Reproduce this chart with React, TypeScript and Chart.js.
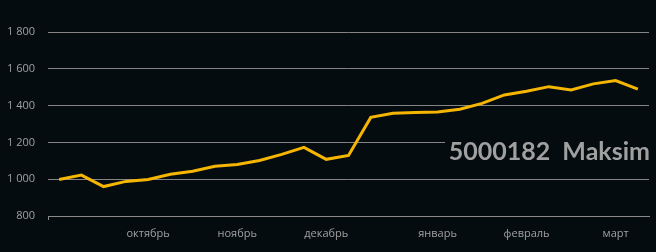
import React, { useEffect, useRef } from "react";
import { Chart, registerables } from "chart.js";

Chart.register(...registerables);

const categories: string[] = [
  "", "", "", "", "октябрь", "", "", "", "ноябрь", "", "", "", "декабрь", "", "", "", "",
  "январь", "", "", "", "февраль", "", "", "", "март", "",
];
const values: number[] = [
  998, 1022, 960, 988, 998, 1027, 1043, 1070, 1080, 1102, 1135, 1173, 1108, 1129,
  1336, 1358, 1363, 1365, 1380, 1412, 1458, 1478, 1503, 1485, 1518, 1536, 1489,
];
const yTicks: number[] = [800, 1000, 1200, 1400, 1600, 1800];
const title = "5000182  Maksim";

const BG = "#040c10";

const overlay = {
  id: "overlay",
  afterDraw(chart: any) {
    const { ctx, chartArea, scales } = chart;
    ctx.save();
    ctx.strokeStyle = "#8a8a8a";
    ctx.lineWidth = 1;
    ctx.beginPath();
    ctx.moveTo(chartArea.left + 0.5, chartArea.bottom);
    ctx.lineTo(chartArea.left + 0.5, chartArea.bottom + 4);
    ctx.stroke();
    const y = scales.y.getPixelForValue(1200);
    ctx.fillStyle = BG;
    ctx.fillRect(chartArea.right - 204, y - 12, 215, 28);
    ctx.font = "bold 25px Lato";
    ctx.fillStyle = "#a0a0a0";
    ctx.textAlign = "right";
    ctx.textBaseline = "alphabetic";
    ctx.fillText(title, chartArea.right + 1, y + 18);
    ctx.restore();
  },
};

export default function App() {
  const ref = useRef<HTMLCanvasElement>(null);
  useEffect(() => {
    document.body.style.margin = "0";
    const chart = new Chart(ref.current!, {
      type: "line",
      data: {
        labels: categories,
        datasets: [
          {
            data: values,
            borderColor: "#f5b500",
            borderWidth: 3,
            pointRadius: 0,
            tension: 0,
            fill: false,
          },
        ],
      },
      options: {
        animation: false,
        responsive: false,
        maintainAspectRatio: false,
        layout: { padding: { top: 32, right: 7, left: 0, bottom: 0 } },
        plugins: { legend: { display: false }, tooltip: { enabled: false } },
        scales: {
          x: {
            offset: true,
            grid: { display: false, drawTicks: false },
            border: { display: true, color: "#8a8a8a", width: 1 },
            ticks: {
              autoSkip: false,
              maxRotation: 0,
              padding: 11,
              color: "#a0a0a0",
              font: { family: "Open Sans", size: 11 },
            },
            afterFit(scale: any) {
              scale.height = 36;
            },
          },
          y: {
            min: 800,
            max: 1800,
            afterBuildTicks(scale: any) {
              scale.ticks = yTicks.map((v) => ({ value: v }));
            },
            grid: { color: "#858585", lineWidth: 1, drawTicks: false },
            border: { display: false },
            ticks: {
              padding: 13,
              color: "#a0a0a0",
              font: { family: "Open Sans", size: 11 },
              callback: (v: any) => String(v).replace(/\B(?=(\d{3})+(?!\d))/g, " "),
            },
            afterFit(scale: any) {
              scale.width = 48;
            },
          },
        },
      },
      plugins: [overlay],
    });
    return () => chart.destroy();
  }, []);
  return (
    <div style={{ position: "absolute", left: 0, top: 0, width: 656, height: 252, background: BG }}>
      <canvas ref={ref} width={656} height={252} style={{ display: "block" }} />
    </div>
  );
}
